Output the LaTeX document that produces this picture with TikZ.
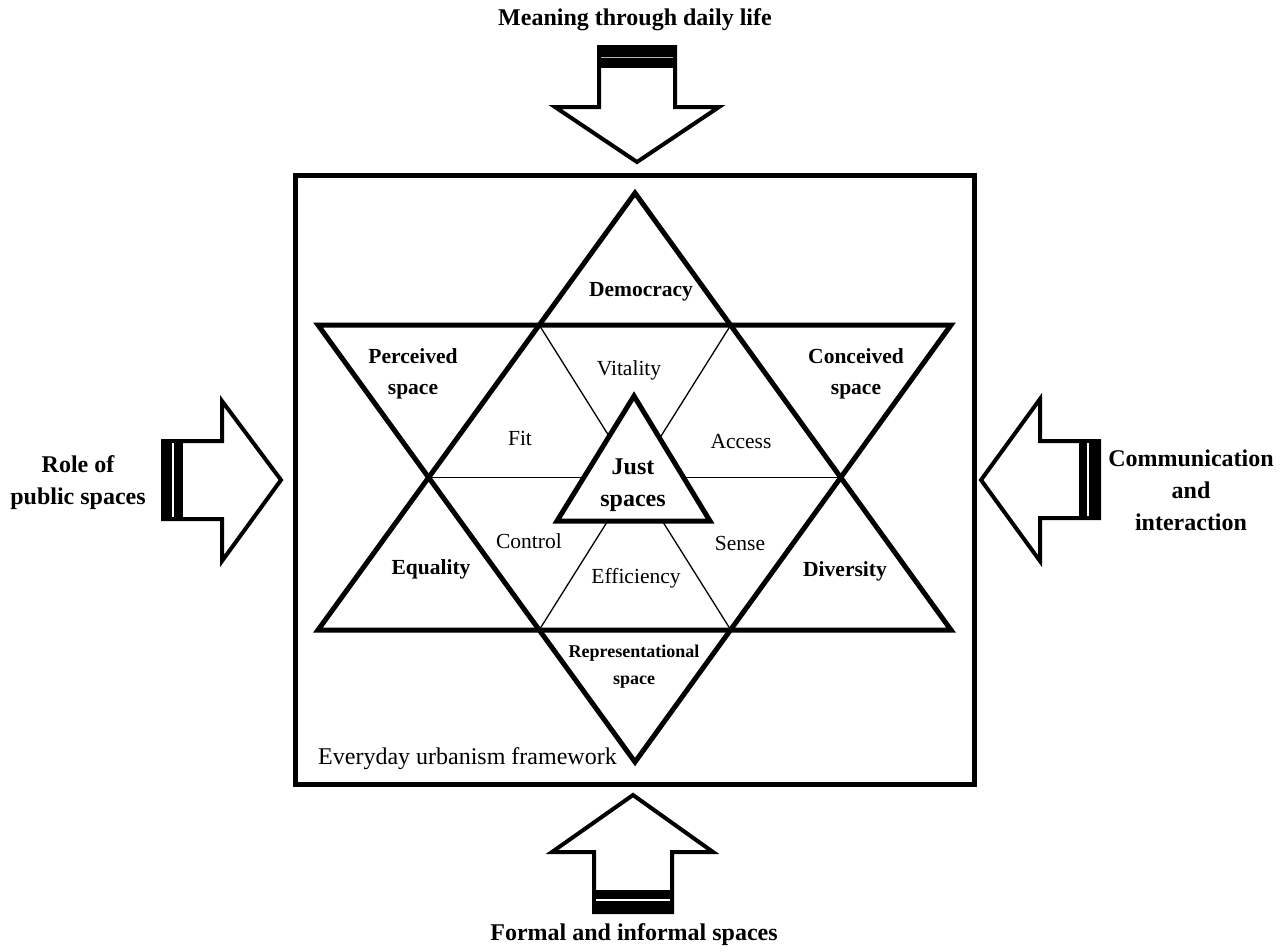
\documentclass[tikz,border=0pt]{standalone}
\usepackage{fontspec}
\setmainfont{Liberation Serif}
\begin{document}
\begin{tikzpicture}[x=1pt,y=-1pt,
  thickline/.style={line width=5pt, line join=miter},
  thinline/.style={line width=1.3pt},
  arr/.style={line width=4pt, line join=miter, fill=white},
  band/.style={fill=black},
  bandline/.style={line width=1.4pt, draw=white},
  bl/.style={font=\fontsize{21.5}{31}\selectfont\bfseries, align=center, inner sep=0pt},
  rl/.style={font=\fontsize{21.5}{31}\selectfont, align=center, inner sep=0pt},
  ol/.style={font=\fontsize{24}{32}\selectfont\bfseries, align=center, inner sep=0pt},
]
\useasboundingbox (0,0) rectangle (1288,951);

% frame
\draw[line width=5pt] (295.5,175) rectangle (974.5,784.5);

% star coordinates
\coordinate (UA) at (635,193);
\coordinate (UL) at (318,630);
\coordinate (UR) at (951,630);
\coordinate (DA) at (635,762);
\coordinate (DL) at (318,325);
\coordinate (DR) at (951,325);
\coordinate (H1) at (539.2,325);
\coordinate (H2) at (730.8,325);
\coordinate (H3) at (841.4,477.5);
\coordinate (H4) at (730.8,630);
\coordinate (H5) at (539.2,630);
\coordinate (H6) at (428.6,477.5);

% thin inner lines
\draw[thinline] (H1) -- (H4);
\draw[thinline] (H2) -- (H5);
\draw[thinline] (H6) -- (H3);

% triangles
\draw[thickline] (UA) -- (UL) -- (UR) -- cycle;
\draw[thickline] (DL) -- (DR) -- (DA) -- cycle;

% inner triangle
\coordinate (JA) at (634,396);
\coordinate (JL) at (557,521);
\coordinate (JR) at (710,521);
\draw[thickline, fill=white] (JA) -- (JL) -- (JR) -- cycle;

% labels inside
\node[bl] (democracy) at (641,292) {Democracy};
\node[bl] (perceived) at (413,374) {Perceived\\space};
\node[bl] (conceived) at (856,374) {Conceived\\space};
\node[rl] (vitality) at (629,370) {Vitality};
\node[rl] (fit) at (520,438) {Fit};
\node[rl] (access) at (741,441) {Access};
\node[font=\fontsize{24}{32}\selectfont\bfseries, align=center, inner sep=0pt] (just) at (633,485) {Just\\spaces};
\node[rl] (control) at (529,541) {Control};
\node[rl] (sense) at (740,543) {Sense};
\node[bl] (equality) at (431,569) {Equality};
\node[rl] (efficiency) at (636,578) {Efficiency};
\node[bl] (diversity) at (845,571) {Diversity};
\node[font=\fontsize{18}{27}\selectfont\bfseries, align=center, inner sep=0pt] (repr) at (634,667) {Representational\\space};
\node[font=\fontsize{24}{30}\selectfont, anchor=west, inner sep=0pt] (everyday) at (318,759) {Everyday urbanism framework};

% top arrow (pointing down)
\draw[arr] (599,47) -- (675,47) -- (675,107) -- (719,107) -- (637,162) -- (555,107) -- (599,107) -- cycle;
\fill[band] (597,45) rectangle (677,68);
\draw[bandline, draw=gray!60] (601,57.5) -- (673,57.5);

% bottom arrow (pointing up)
\draw[arr] (594,912) -- (672,912) -- (672,852) -- (713,852) -- (633,795) -- (552,852) -- (594,852) -- cycle;
\fill[band] (592,890) rectangle (674,914);
\draw[bandline] (596,900) -- (670,900);

% left arrow (pointing right)
\draw[arr] (163,441) -- (163,519) -- (222,519) -- (222,561) -- (281,480) -- (222,401) -- (222,441) -- cycle;
\fill[band] (161,439) rectangle (183,521);
\draw[bandline] (173,443) -- (173,517);

% right arrow (pointing left)
\draw[arr] (1099,441) -- (1099,518) -- (1040,518) -- (1040,561) -- (981,480) -- (1040,399) -- (1040,441) -- cycle;
\fill[band] (1079,439) rectangle (1101,520);
\draw[bandline] (1088,443) -- (1088,516);

% outer labels
\node[ol] (meaning) at (635,20) {Meaning through daily life};
\node[ol] (formal) at (634,935) {Formal and informal spaces};
\node[ol] (role) at (78,483) {Role of\\public spaces};
\node[ol] (comm) at (1191,490) {Communication\\and\\interaction};
\end{tikzpicture}
\end{document}
